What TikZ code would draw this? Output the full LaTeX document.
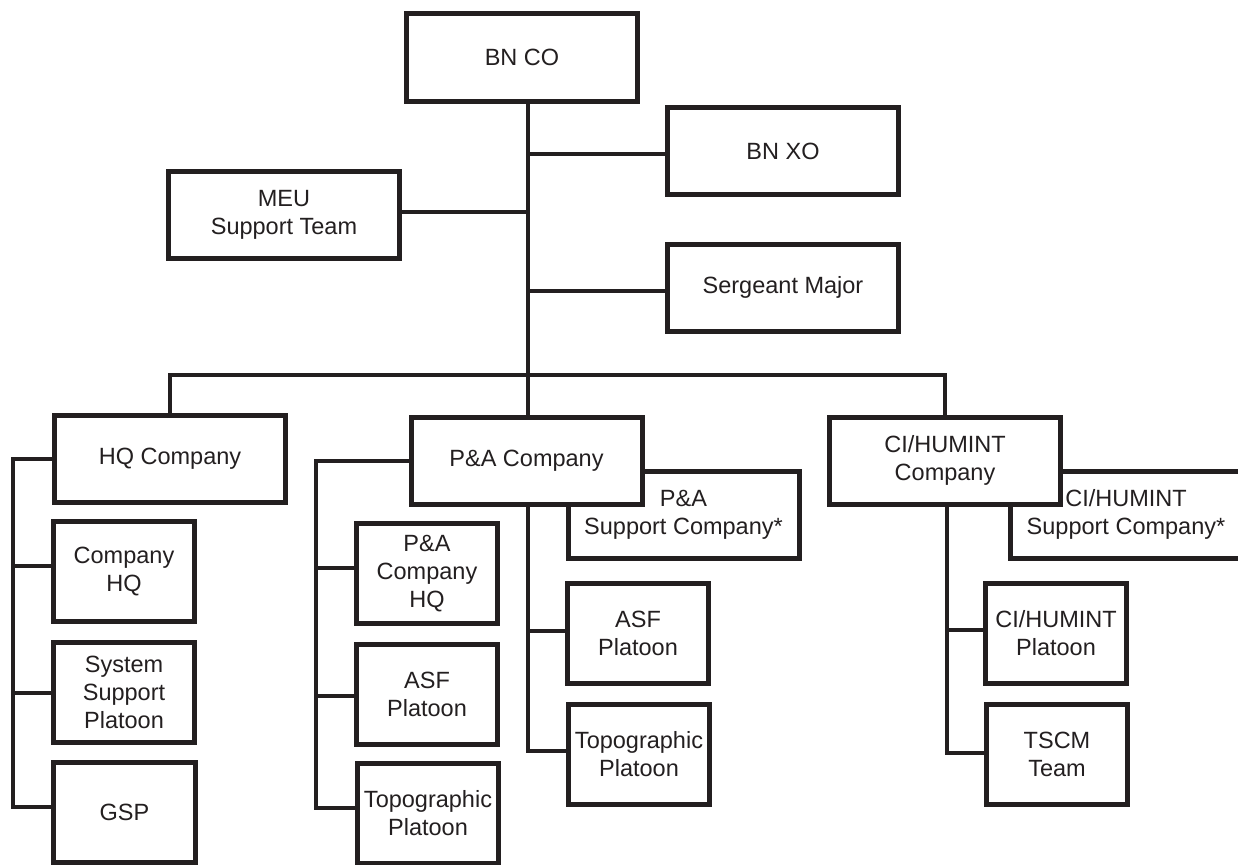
\documentclass[tikz,border=0pt]{standalone}
\usepackage{fontspec}
\newfontfamily\chartfont{Liberation Sans}
\definecolor{ink}{RGB}{35,31,32}
\tikzset{
  box/.style={draw=ink, text=ink, line width=5bp, fill=white, inner sep=0pt,
    align=center, font={\chartfont\fontsize{23.5bp}{28bp}\selectfont}},
  unitbox/.style={box, minimum width=231bp, minimum height=87bp},
  teambox/.style={box, minimum width=141bp, minimum height=100bp},
  link/.style={draw=ink, line width=4bp, line join=miter},
}
\begin{document}
\begin{tikzpicture}[x=1bp, y=-1bp]
\useasboundingbox (0,0) rectangle (1238,865);
\clip (0,0) rectangle (1238,865);

% rails and junctions
\coordinate (bus) at (528,375);
\coordinate (hqrail) at (13,0);
\coordinate (parail) at (316,0);
\coordinate (cirail) at (947,0);

% battalion staff
\node[unitbox] (bnco) at (522,57.5) {BN CO};
\node[unitbox] (bnxo) at (783,151) {BN XO};
\node[unitbox] (meu)  at (284,214.5) {MEU\\Support Team};
\node[unitbox] (sgm)  at (783,287.5) {Sergeant Major};

% support companies sit behind their parent companies
\node[unitbox] (pas) at (683.5,515) {P\&A\\Support Company*};
\node[unitbox] (cis) at (1126,514.5) {CI/HUMINT\\Support Company*};

% companies
\node[unitbox] (hq) at (170,459) {HQ Company};
\node[unitbox] (pa) at (526.5,461) {P\&A Company};
\node[unitbox] (ci) at (945,460.5) {CI/HUMINT\\Company};

% HQ Company elements
\node[teambox] (chq) at (124,571.5) {Company\\HQ};
\node[teambox] (ssp) at (124,692.5) {System\\Support\\Platoon};
\node[teambox] (gsp) at (124.5,812) {GSP};

% P&A Company elements
\node[teambox] (pahq)  at (427,573.5) {P\&A\\Company\\HQ};
\node[teambox] (asfa)  at (427,694.5) {ASF\\Platoon};
\node[teambox] (topoa) at (428,813) {Topographic\\Platoon};
\node[teambox] (asfb)  at (638,633.5) {ASF\\Platoon};
\node[teambox] (topob) at (639,754.5) {Topographic\\Platoon};

% CI/HUMINT Company elements
\node[teambox] (cip)  at (1056,633) {CI/HUMINT\\Platoon};
\node[teambox] (tscm) at (1057,754.5) {TSCM\\Team};

% command trunk
\draw[link] (bnco.south -| bus) -- (bus);
\draw[link] ([yshift=-3bp]bnxo.west) -- ([yshift=-3bp]bnxo.west -| bus);
\draw[link] ([yshift=2.5bp]meu.east) -- ([yshift=2.5bp]meu.east -| bus);
\draw[link] ([yshift=-3.5bp]sgm.west) -- ([yshift=-3.5bp]sgm.west -| bus);

% company bus
\draw[link] (hq.north) -- (hq.north |- bus) -- (ci.north |- bus) -- (ci.north);
\draw[link] (bus) -- (bus |- pa.north);

% HQ Company rail
\draw[link] (hq.west) -- (hq.west -| hqrail) |- ([yshift=5bp]gsp.west);
\draw[link] ([yshift=5.5bp]chq.west) -- ([yshift=5.5bp]chq.west -| hqrail);
\draw[link] (ssp.west) -- (ssp.west -| hqrail);

% P&A Company rails
\draw[link] (pa.west) -- (pa.west -| parail) |- ([yshift=5bp]topoa.west);
\draw[link] ([yshift=5.5bp]pahq.west) -- ([yshift=5.5bp]pahq.west -| parail);
\draw[link] ([yshift=-1.5bp]asfa.west) -- ([yshift=-1.5bp]asfa.west -| parail);
\draw[link] (pa.south -| bus) |- ([yshift=3.5bp]topob.west);
\draw[link] ([yshift=2.5bp]asfb.west) -- ([yshift=2.5bp]asfb.west -| bus);

% CI/HUMINT Company rail
\draw[link] (ci.south -| cirail) |- ([yshift=1.5bp]tscm.west);
\draw[link] ([yshift=3bp]cip.west) -- ([yshift=3bp]cip.west -| cirail);
\end{tikzpicture}
\end{document}
